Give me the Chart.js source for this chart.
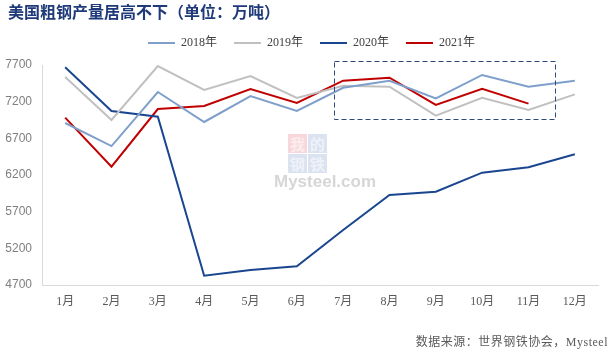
<!DOCTYPE html>
<html><head><meta charset="utf-8">
<script src="https://cdn.jsdelivr.net/npm/chart.js@4.4.1/dist/chart.umd.min.js"></script>
<style>html,body{margin:0;padding:0;background:#fff}#wrap{width:613px;height:355px}</style>
</head><body><div id="wrap"><canvas id="c" width="613" height="355"></canvas></div>
<script>
const categories = ['1月','2月','3月','4月','5月','6月','7月','8月','9月','10月','11月','12月'];
const s2018 = [6909, 6595, 7332, 6923, 7277, 7073, 7390, 7486, 7245, 7564, 7404, 7486];
const s2019 = [7536, 6950, 7686, 7359, 7550, 7250, 7418, 7404, 7009, 7254, 7086, 7300];
const s2020 = [7668, 7073, 6995, 4827, 4905, 4955, 5450, 5927, 5973, 6232, 6305, 6482];
const s2021 = [6982, 6314, 7100, 7141, 7373, 7182, 7486, 7527, 7155, 7377, 7173, null];
const seriesNames = ['2018年','2019年','2020年','2021年'];
const yMin = 4700, yMax = 7700, yStep = 500;
const highlight = { fromIdx: 5.8, toIdx: 10.56, top: 7755, bottom: 6964 };
const titleText = '美国粗钢产量居高不下（单位：万吨）';
const sourceText = '数据来源：世界钢铁协会，Mysteel';

const serif = '"Liberation Serif", "Noto Sans CJK SC", serif';
const cjk = '"Noto Sans CJK SC", sans-serif';

const extras = {
  id: 'extras',
  beforeLayout(chart) {
    const lg = chart.legend;
    if (lg && !lg._patched) {
      const orig = lg.fit.bind(lg);
      lg.fit = function () { orig(); this.height += 6; };
      lg._patched = true;
    }
  },
  afterLayout(chart) {
    if (chart.legend) chart.legend.left += 25;
  },
  beforeDatasetsDraw(chart) {
    const ctx = chart.ctx;
    ctx.save();
    const bx = 288, by = 134, s = 19;
    ctx.globalAlpha = 0.25;
    ctx.fillStyle = '#e06070'; ctx.fillRect(bx, by, s, s);
    ctx.fillStyle = '#6f8fc8'; ctx.fillRect(bx + s + 1, by, s, s);
    ctx.fillRect(bx, by + s + 1, s, s); ctx.fillRect(bx + s + 1, by + s + 1, s, s);
    ctx.globalAlpha = 0.55;
    ctx.fillStyle = '#ffffff';
    ctx.font = 'bold 15px ' + cjk; ctx.textAlign = 'center'; ctx.textBaseline = 'middle';
    ctx.fillText('我', bx + s/2, by + s/2 + 1); ctx.fillText('的', bx + s*1.5 + 1, by + s/2 + 1);
    ctx.fillText('钢', bx + s/2, by + s*1.5 + 2); ctx.fillText('铁', bx + s*1.5 + 1, by + s*1.5 + 2);
    ctx.globalAlpha = 1;
    ctx.fillStyle = '#d6d6d6';
    ctx.font = 'bold 17px "Liberation Sans", sans-serif';
    ctx.textAlign = 'left'; ctx.textBaseline = 'alphabetic';
    ctx.fillText('Mysteel.com', 274, 187);
    ctx.restore();
  },
  afterDatasetsDraw(chart) {
    const ctx = chart.ctx, x = chart.scales.x, y = chart.scales.y;
    ctx.save();
    const l = x.getPixelForValue(highlight.fromIdx), r = x.getPixelForValue(highlight.toIdx);
    const t = y.getPixelForValue(highlight.top), b = y.getPixelForValue(highlight.bottom);
    ctx.strokeStyle = '#2f4a7a'; ctx.lineWidth = 1; ctx.setLineDash([5, 3]);
    ctx.strokeRect(Math.round(l) + 0.5, Math.round(t) + 0.5, Math.round(r - l), Math.round(b - t));
    ctx.restore();
  },
  afterDraw(chart) {
    const ctx = chart.ctx;
    ctx.save();
    ctx.fillStyle = '#1f3a7a';
    ctx.font = 'bold 16px ' + cjk;
    ctx.textAlign = 'left'; ctx.textBaseline = 'middle';
    ctx.fillText(titleText, 8, 12);
    ctx.fillStyle = '#595959';
    ctx.font = '12px ' + serif;
    ctx.textAlign = 'right';
    if ('letterSpacing' in ctx) ctx.letterSpacing = '0.5px';
    ctx.fillText(sourceText, 608, 343);
    ctx.restore();
  }
};

const colors = ['#7f9fcb', '#c0c0c0', '#1a4690', '#c00000'];
const seriesData = [s2018, s2019, s2020, s2021];

new Chart(document.getElementById('c'), {
  type: 'line',
  data: {
    labels: categories,
    datasets: seriesData.map((d, i) => ({
      label: seriesNames[i], data: d, borderColor: colors[i], backgroundColor: colors[i],
      borderWidth: 2, pointRadius: 0, tension: 0, fill: false
    }))
  },
  options: {
    responsive: false, animation: false, devicePixelRatio: 1,
    layout: { padding: { top: 20, right: 15, bottom: 40, left: 0 } },
    plugins: {
      title: { display: false },
      tooltip: { enabled: false },
      legend: {
        display: true, position: 'top', align: 'center',
        labels: {
          usePointStyle: true, pointStyle: 'line', pointStyleWidth: 27, boxWidth: 27,
          padding: 17, color: '#404040', font: { family: serif, size: 12 }
        }
      }
    },
    scales: {
      x: {
        offset: true,
        grid: { display: false, drawTicks: false },
        border: { display: true, color: '#d9d9d9' },
        ticks: { color: '#595959', font: { family: serif, size: 12 }, padding: 10, maxRotation: 0, autoSkip: false },
        afterFit(s) { s.height = 30; }
      },
      y: {
        min: yMin, max: yMax,
        grid: { display: false, drawTicks: false },
        border: { display: true, color: '#d9d9d9' },
        ticks: { stepSize: yStep, color: '#7f7f7f', font: { family: '"Liberation Sans", sans-serif', size: 12 }, padding: 10,
                 callback: (v) => String(v) },
        afterFit(s) { s.width = 42; }
      }
    }
  },
  plugins: [extras]
});
</script></body></html>
